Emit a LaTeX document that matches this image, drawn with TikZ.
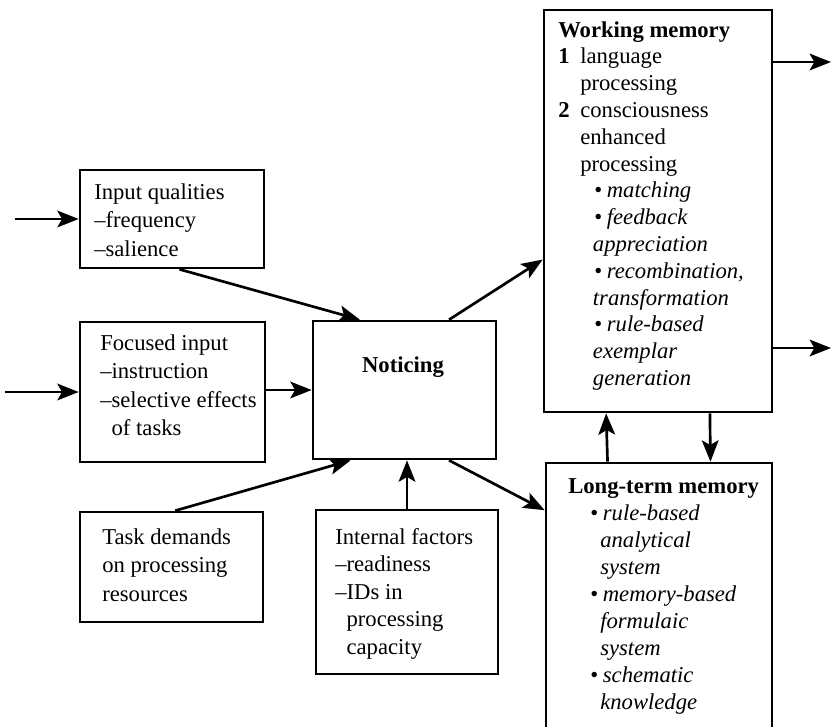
\documentclass[tikz,border=0pt]{standalone}
\usepackage{fontspec}
\setmainfont{Liberation Serif}
\usetikzlibrary{arrows.meta,calc,fit}

% indentation helpers for the list-like box texts
\newcommand{\numitem}[1]{\makebox[16.5pt][l]{\bfseries #1}}
\newcommand{\numcont}[1]{\hspace*{16.5pt}#1}
\newcommand{\wmbullet}[1]{\hspace*{27pt}•\hspace{3.5pt}\textit{#1}}
\newcommand{\wmcont}[1]{\hspace*{26pt}\textit{#1}}
\newcommand{\ltmbullet}[1]{\hspace*{16.5pt}•\hspace{3.5pt}\textit{#1}}
\newcommand{\ltmcont}[1]{\hspace*{24pt}\textit{#1}}
\newcommand{\dashcont}[1]{\hphantom{\textendash}#1}

\tikzset{
  box/.style={draw, line width=2pt, inner sep=0pt},
  txt/.style={anchor=north west, inner sep=0pt, align=left,
              font=\fontsize{17}{21.4}\selectfont},
  arr/.style={line width=2pt, -{Stealth[length=16pt,width=12.5pt,inset=3.5pt]}},
}

\begin{document}
\begin{tikzpicture}[x=0.75pt,y=-0.75pt]
\useasboundingbox (0,0) rectangle (832,726);

% ---- boxes ----
\node[box, fit={(80,170) (264,268)}]  (iq)  {};
\node[box, fit={(80,322) (265,462)}]  (fi)  {};
\node[box, fit={(80,512) (263,622)}]  (td)  {};
\node[box, fit={(313,321) (496,459)}] (nt)  {};
\node[box, fit={(316,510) (498,674)}] (inf) {};
\node[box, fit={(544,10) (772,412)}]  (wm)  {};
\node[box, fit={(546,463) (772,730)}] (ltm) {};

% ---- texts ----
\node[txt] (iqt) at (94,179) {\strut Input qualities\\
  \textendash frequency\\
  \textendash salience};
\node[txt] (fit) at (100,330) {\strut Focused input\\
  \textendash instruction\\
  \textendash selective effects\\
  \dashcont{of tasks}};
\node[txt] (tdt) at (102,524) {\strut Task demands\\
  on processing\\
  resources};
\node[txt, font=\fontsize{17}{20.6}\selectfont] (inft) at (335,525) {\strut Internal factors\\
  \textendash readiness\\
  \textendash IDs in\\
  \dashcont{processing}\\
  \dashcont{capacity}};
\node[font=\fontsize{17}{20.25}\selectfont\bfseries] (ntt) at (403,367) {Noticing};
\node[txt, font=\fontsize{17}{20.1}\selectfont] (wmt) at (558,18) {\strut\textbf{Working memory}\\
  \numitem{1}language\\
  \numcont{processing}\\
  \numitem{2}consciousness\\
  \numcont{enhanced}\\
  \numcont{processing}\\
  \wmbullet{matching}\\
  \wmbullet{feedback}\\
  \wmcont{appreciation}\\
  \wmbullet{recombination,}\\
  \wmcont{transformation}\\
  \wmbullet{rule-based}\\
  \wmcont{exemplar}\\
  \wmcont{generation}};
\node[txt, font=\fontsize{17}{20.25}\selectfont] (ltmt) at (568,474) {\strut\textbf{Long-term memory}\\
  \ltmbullet{rule-based}\\
  \ltmcont{analytical}\\
  \ltmcont{system}\\
  \ltmbullet{memory-based}\\
  \ltmcont{formulaic}\\
  \ltmcont{system}\\
  \ltmbullet{schematic}\\
  \ltmcont{knowledge}};

% ---- free ends of the outer arrows ----
\coordinate (srcA) at (15,219);
\coordinate (srcB) at (5,392);
\coordinate (outA) at (831,62);
\coordinate (outB) at (831,348);

% ---- connectors ----
\draw[arr] (srcA) -- (srcA -| iq.west);
\draw[arr] (srcB) -- (srcB -| fi.west);
\draw[arr] ($(iq.south west)!0.54!(iq.south east)$) -- ($(nt.north west)!0.26!(nt.north east)$);
\draw[arr] (fi.east |- nt.west) -- (nt.west);
\draw[arr] ($(td.north west)!0.52!(td.north east)$) -- ($(nt.south west)!0.21!(nt.south east)$);
\draw[arr] (inf.north) -- (inf.north |- nt.south);
\draw[arr] ($(nt.north west)!0.74!(nt.north east)$) -- ($(wm.north west)!0.62!(wm.south west)$);
\draw[arr] ($(nt.south west)!0.74!(nt.south east)$) -- ($(ltm.north west)!0.18!(ltm.south west)$);
\draw[arr] ($(ltm.north west)!0.275!(ltm.north east)$) -- ($(wm.south west)!0.275!(wm.south east)$);
\draw[arr] ($(wm.south west)!0.725!(wm.south east)$) -- ($(ltm.north west)!0.725!(ltm.north east)$);
\draw[arr] (wm.east |- outA) -- (outA);
\draw[arr] (wm.east |- outB) -- (outB);
\end{tikzpicture}
\end{document}
